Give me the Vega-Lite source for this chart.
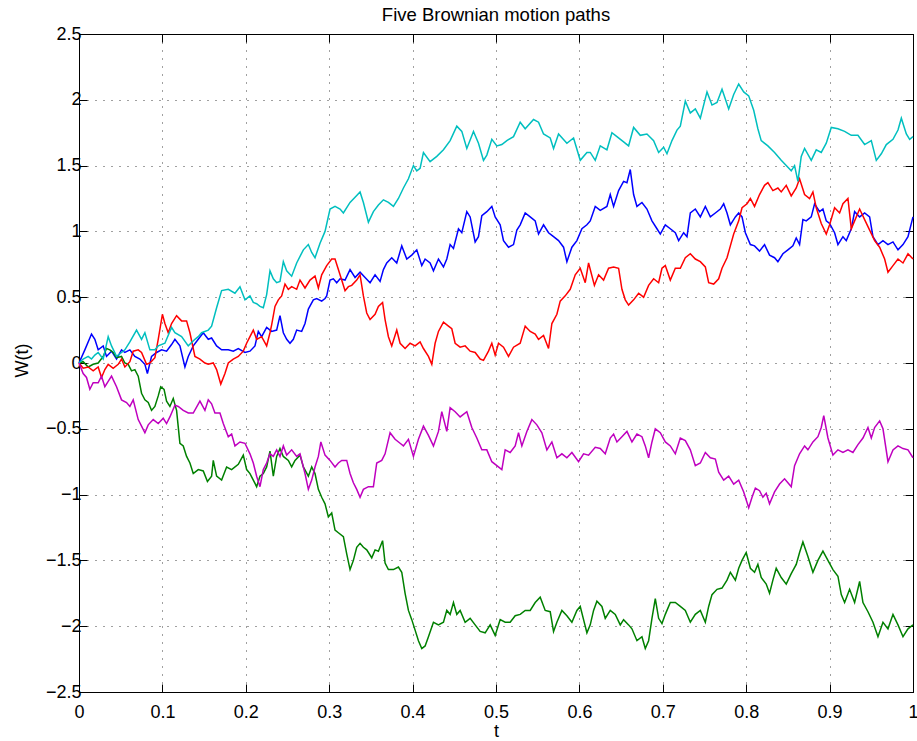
{
"$schema": "https://vega.github.io/schema/vega-lite/v6.json",
"width": 834, "height": 658,
"autosize": {"type": "none"},
"padding": {"left": 79, "top": 34, "right": 4, "bottom": 49},
"background": "white",
"title": {"text": "Five Brownian motion paths", "fontSize": 18.5, "fontWeight": "normal", "font": "Liberation Sans", "color": "#000", "baseline": "alphabetic", "offset": -14, "anchor": "middle", "frame": "group"},
"config": {
  "view": {"stroke": "#000", "strokeWidth": 1},
  "axis": {"domainColor": "#000", "tickColor": "#000", "labelColor": "#000", "titleColor": "#000", "labelFont": "Liberation Sans", "titleFont": "Liberation Sans", "labelFontSize": 18, "titleFontSize": 18, "titleFontWeight": "normal", "tickSize": -8, "gridColor": "#000", "gridDash": [1, 7], "gridOpacity": 0.75, "labelFlush": false, "labelOverlap": false, "labelBound": false}
},
"data": {"values": [
{"p":"1","t":0,"w":0},{"p":"1","t":0.007,"w":0.10},{"p":"1","t":0.015,"w":0.22},{"p":"1","t":0.019,"w":0.18},{"p":"1","t":0.023,"w":0.10},{"p":"1","t":0.029,"w":0.13},{"p":"1","t":0.033,"w":0.05},{"p":"1","t":0.039,"w":0.09},{"p":"1","t":0.045,"w":0.03},{"p":"1","t":0.051,"w":0.10},{"p":"1","t":0.055,"w":0.08},{"p":"1","t":0.061,"w":0.10},{"p":"1","t":0.067,"w":0.05},{"p":"1","t":0.073,"w":0.03},{"p":"1","t":0.079,"w":-0.01},{"p":"1","t":0.082,"w":-0.08},{"p":"1","t":0.087,"w":0.05},{"p":"1","t":0.093,"w":0.08},{"p":"1","t":0.099,"w":0.10},{"p":"1","t":0.105,"w":0.09},{"p":"1","t":0.111,"w":0.14},{"p":"1","t":0.115,"w":0.18},{"p":"1","t":0.121,"w":0.13},{"p":"1","t":0.127,"w":-0.03},{"p":"1","t":0.131,"w":0.05},{"p":"1","t":0.137,"w":0.13},{"p":"1","t":0.143,"w":0.18},{"p":"1","t":0.149,"w":0.23},{"p":"1","t":0.155,"w":0.18},{"p":"1","t":0.159,"w":0.19},{"p":"1","t":0.165,"w":0.13},{"p":"1","t":0.171,"w":0.10},{"p":"1","t":0.179,"w":0.10},{"p":"1","t":0.185,"w":0.09},{"p":"1","t":0.191,"w":0.11},{"p":"1","t":0.199,"w":0.08},
{"p":"1","t":0.205,"w":0.09},{"p":"1","t":0.211,"w":0.13},{"p":"1","t":0.215,"w":0.24},{"p":"1","t":0.219,"w":0.20},{"p":"1","t":0.225,"w":0.27},{"p":"1","t":0.231,"w":0.24},{"p":"1","t":0.237,"w":0.25},{"p":"1","t":0.241,"w":0.36},{"p":"1","t":0.245,"w":0.23},{"p":"1","t":0.249,"w":0.18},{"p":"1","t":0.253,"w":0.15},{"p":"1","t":0.257,"w":0.18},{"p":"1","t":0.261,"w":0.25},{"p":"1","t":0.267,"w":0.24},{"p":"1","t":0.271,"w":0.30},{"p":"1","t":0.275,"w":0.41},{"p":"1","t":0.281,"w":0.48},{"p":"1","t":0.285,"w":0.49},{"p":"1","t":0.291,"w":0.47},{"p":"1","t":0.295,"w":0.49},{"p":"1","t":0.297,"w":0.51},{"p":"1","t":0.301,"w":0.63},{"p":"1","t":0.305,"w":0.64},{"p":"1","t":0.309,"w":0.61},{"p":"1","t":0.313,"w":0.64},{"p":"1","t":0.319,"w":0.63},{"p":"1","t":0.325,"w":0.71},{"p":"1","t":0.331,"w":0.65},{"p":"1","t":0.337,"w":0.69},{"p":"1","t":0.343,"w":0.65},{"p":"1","t":0.349,"w":0.61},{"p":"1","t":0.355,"w":0.67},{"p":"1","t":0.361,"w":0.62},{"p":"1","t":0.365,"w":0.71},{"p":"1","t":0.369,"w":0.76},{"p":"1","t":0.375,"w":0.80},{"p":"1","t":0.381,"w":0.76},{"p":"1","t":0.387,"w":0.89},{"p":"1","t":0.393,"w":0.79},{"p":"1","t":0.399,"w":0.82},{"p":"1","t":0.405,"w":0.86},
{"p":"1","t":0.411,"w":0.74},{"p":"1","t":0.415,"w":0.79},{"p":"1","t":0.421,"w":0.76},{"p":"1","t":0.425,"w":0.70},{"p":"1","t":0.431,"w":0.79},{"p":"1","t":0.437,"w":0.73},{"p":"1","t":0.441,"w":0.79},{"p":"1","t":0.445,"w":0.90},{"p":"1","t":0.449,"w":0.87},{"p":"1","t":0.455,"w":1.02},{"p":"1","t":0.459,"w":0.99},{"p":"1","t":0.465,"w":1.15},{"p":"1","t":0.469,"w":1.11},{"p":"1","t":0.475,"w":0.92},{"p":"1","t":0.479,"w":0.96},{"p":"1","t":0.483,"w":1.12},{"p":"1","t":0.489,"w":1.15},{"p":"1","t":0.495,"w":1.19},{"p":"1","t":0.499,"w":1.11},{"p":"1","t":0.505,"w":1.05},{"p":"1","t":0.509,"w":0.93},{"p":"1","t":0.515,"w":0.88},{"p":"1","t":0.521,"w":0.90},{"p":"1","t":0.525,"w":1.01},{"p":"1","t":0.529,"w":1.05},{"p":"1","t":0.535,"w":1.14},{"p":"1","t":0.541,"w":1.11},{"p":"1","t":0.547,"w":1.08},{"p":"1","t":0.551,"w":0.98},{"p":"1","t":0.557,"w":1.05},{"p":"1","t":0.563,"w":0.99},{"p":"1","t":0.569,"w":0.96},{"p":"1","t":0.575,"w":0.93},{"p":"1","t":0.581,"w":0.88},{"p":"1","t":0.585,"w":0.77},{"p":"1","t":0.591,"w":0.88},{"p":"1","t":0.597,"w":0.93},{"p":"1","t":0.603,"w":1.02},{"p":"1","t":0.609,"w":1.05},
{"p":"1","t":0.613,"w":1.08},{"p":"1","t":0.619,"w":1.19},{"p":"1","t":0.625,"w":1.16},{"p":"1","t":0.633,"w":1.19},{"p":"1","t":0.637,"w":1.28},{"p":"1","t":0.641,"w":1.19},{"p":"1","t":0.647,"w":1.31},{"p":"1","t":0.653,"w":1.38},{"p":"1","t":0.657,"w":1.37},{"p":"1","t":0.661,"w":1.47},{"p":"1","t":0.665,"w":1.28},{"p":"1","t":0.669,"w":1.19},{"p":"1","t":0.675,"w":1.22},{"p":"1","t":0.681,"w":1.17},{"p":"1","t":0.687,"w":1.08},{"p":"1","t":0.693,"w":1.02},{"p":"1","t":0.697,"w":0.98},{"p":"1","t":0.703,"w":1.05},{"p":"1","t":0.709,"w":1.02},{"p":"1","t":0.715,"w":0.99},{"p":"1","t":0.719,"w":0.93},{"p":"1","t":0.725,"w":0.99},{"p":"1","t":0.729,"w":0.96},{"p":"1","t":0.733,"w":1.14},{"p":"1","t":0.739,"w":1.17},{"p":"1","t":0.745,"w":1.11},{"p":"1","t":0.751,"w":1.19},{"p":"1","t":0.757,"w":1.11},{"p":"1","t":0.763,"w":1.14},{"p":"1","t":0.769,"w":1.17},{"p":"1","t":0.773,"w":1.21},{"p":"1","t":0.777,"w":1.14},{"p":"1","t":0.781,"w":1.05},{"p":"1","t":0.787,"w":1.11},{"p":"1","t":0.791,"w":1.14},{"p":"1","t":0.795,"w":1.11},{"p":"1","t":0.799,"w":0.99},{"p":"1","t":0.805,"w":0.90},
{"p":"1","t":0.810,"w":0.89},{"p":"1","t":0.816,"w":0.85},{"p":"1","t":0.822,"w":0.90},{"p":"1","t":0.828,"w":0.82},{"p":"1","t":0.834,"w":0.80},{"p":"1","t":0.838,"w":0.77},{"p":"1","t":0.844,"w":0.83},{"p":"1","t":0.850,"w":0.86},{"p":"1","t":0.856,"w":0.89},{"p":"1","t":0.860,"w":0.95},{"p":"1","t":0.864,"w":0.90},{"p":"1","t":0.868,"w":1.09},{"p":"1","t":0.872,"w":1.08},{"p":"1","t":0.878,"w":1.11},{"p":"1","t":0.882,"w":1.21},{"p":"1","t":0.888,"w":1.15},{"p":"1","t":0.892,"w":1.17},{"p":"1","t":0.896,"w":1.08},{"p":"1","t":0.900,"w":1.06},{"p":"1","t":0.906,"w":0.99},{"p":"1","t":0.910,"w":0.90},{"p":"1","t":0.916,"w":0.96},{"p":"1","t":0.920,"w":0.93},{"p":"1","t":0.926,"w":1.02},{"p":"1","t":0.930,"w":1.15},{"p":"1","t":0.936,"w":1.11},{"p":"1","t":0.942,"w":1.14},{"p":"1","t":0.948,"w":1.11},{"p":"1","t":0.952,"w":0.96},{"p":"1","t":0.958,"w":0.90},{"p":"1","t":0.964,"w":0.93},{"p":"1","t":0.970,"w":0.90},{"p":"1","t":0.976,"w":0.92},{"p":"1","t":0.982,"w":0.86},{"p":"1","t":0.988,"w":0.90},{"p":"1","t":0.994,"w":0.96},{"p":"1","t":1,"w":1.11},

{"p":"2","t":0,"w":0},{"p":"2","t":0.005,"w":0.01},{"p":"2","t":0.011,"w":-0.03},{"p":"2","t":0.017,"w":-0.01},{"p":"2","t":0.023,"w":0.00},{"p":"2","t":0.029,"w":0.05},{"p":"2","t":0.033,"w":0.11},{"p":"2","t":0.037,"w":0.10},{"p":"2","t":0.041,"w":0.08},{"p":"2","t":0.045,"w":0.04},{"p":"2","t":0.051,"w":0.05},{"p":"2","t":0.055,"w":0.00},{"p":"2","t":0.059,"w":-0.01},{"p":"2","t":0.063,"w":-0.06},{"p":"2","t":0.067,"w":-0.05},{"p":"2","t":0.071,"w":-0.10},{"p":"2","t":0.075,"w":-0.23},{"p":"2","t":0.079,"w":-0.28},{"p":"2","t":0.083,"w":-0.30},{"p":"2","t":0.087,"w":-0.36},{"p":"2","t":0.091,"w":-0.33},{"p":"2","t":0.095,"w":-0.25},{"p":"2","t":0.098,"w":-0.18},{"p":"2","t":0.102,"w":-0.20},{"p":"2","t":0.105,"w":-0.29},{"p":"2","t":0.109,"w":-0.33},{"p":"2","t":0.113,"w":-0.27},{"p":"2","t":0.117,"w":-0.36},{"p":"2","t":0.121,"w":-0.61},{"p":"2","t":0.125,"w":-0.63},{"p":"2","t":0.129,"w":-0.71},{"p":"2","t":0.133,"w":-0.76},{"p":"2","t":0.137,"w":-0.84},{"p":"2","t":0.143,"w":-0.81},{"p":"2","t":0.149,"w":-0.82},{"p":"2","t":0.154,"w":-0.90},{"p":"2","t":0.159,"w":-0.86},{"p":"2","t":0.161,"w":-0.74},{"p":"2","t":0.165,"w":-0.86},{"p":"2","t":0.171,"w":-0.89},{"p":"2","t":0.177,"w":-0.79},{"p":"2","t":0.183,"w":-0.81},{"p":"2","t":0.191,"w":-0.77},{"p":"2","t":0.197,"w":-0.70},{"p":"2","t":0.201,"w":-0.81},
{"p":"2","t":0.205,"w":-0.84},{"p":"2","t":0.209,"w":-0.89},{"p":"2","t":0.213,"w":-0.94},{"p":"2","t":0.217,"w":-0.86},{"p":"2","t":0.221,"w":-0.84},{"p":"2","t":0.225,"w":-0.79},{"p":"2","t":0.229,"w":-0.67},{"p":"2","t":0.233,"w":-0.86},{"p":"2","t":0.237,"w":-0.71},{"p":"2","t":0.241,"w":-0.65},{"p":"2","t":0.245,"w":-0.71},{"p":"2","t":0.251,"w":-0.74},{"p":"2","t":0.255,"w":-0.79},{"p":"2","t":0.259,"w":-0.74},{"p":"2","t":0.265,"w":-0.70},{"p":"2","t":0.269,"w":-0.79},{"p":"2","t":0.275,"w":-0.86},{"p":"2","t":0.279,"w":-0.79},{"p":"2","t":0.283,"w":-0.84},{"p":"2","t":0.287,"w":-0.96},{"p":"2","t":0.291,"w":-1.02},{"p":"2","t":0.295,"w":-1.07},{"p":"2","t":0.299,"w":-1.17},{"p":"2","t":0.303,"w":-1.14},{"p":"2","t":0.307,"w":-1.27},{"p":"2","t":0.311,"w":-1.29},{"p":"2","t":0.317,"w":-1.32},{"p":"2","t":0.321,"w":-1.45},{"p":"2","t":0.325,"w":-1.57},{"p":"2","t":0.329,"w":-1.50},{"p":"2","t":0.333,"w":-1.40},{"p":"2","t":0.337,"w":-1.37},{"p":"2","t":0.341,"w":-1.40},{"p":"2","t":0.345,"w":-1.42},{"p":"2","t":0.351,"w":-1.48},{"p":"2","t":0.355,"w":-1.42},{"p":"2","t":0.359,"w":-1.43},{"p":"2","t":0.364,"w":-1.35},{"p":"2","t":0.367,"w":-1.52},{"p":"2","t":0.371,"w":-1.57},{"p":"2","t":0.377,"w":-1.57},{"p":"2","t":0.383,"w":-1.55},{"p":"2","t":0.387,"w":-1.59},{"p":"2","t":0.391,"w":-1.75},{"p":"2","t":0.395,"w":-1.88},{"p":"2","t":0.399,"w":-1.95},{"p":"2","t":0.403,"w":-2.03},{"p":"2","t":0.407,"w":-2.11},
{"p":"2","t":0.411,"w":-2.17},{"p":"2","t":0.415,"w":-2.15},{"p":"2","t":0.419,"w":-2.08},{"p":"2","t":0.425,"w":-1.97},{"p":"2","t":0.431,"w":-1.99},{"p":"2","t":0.437,"w":-1.97},{"p":"2","t":0.441,"w":-1.88},{"p":"2","t":0.445,"w":-1.91},{"p":"2","t":0.449,"w":-1.82},{"p":"2","t":0.453,"w":-1.91},{"p":"2","t":0.457,"w":-1.88},{"p":"2","t":0.463,"w":-1.97},{"p":"2","t":0.469,"w":-1.94},{"p":"2","t":0.475,"w":-1.99},{"p":"2","t":0.481,"w":-2.04},{"p":"2","t":0.487,"w":-2.05},{"p":"2","t":0.493,"w":-1.99},{"p":"2","t":0.499,"w":-2.07},{"p":"2","t":0.505,"w":-1.95},{"p":"2","t":0.511,"w":-1.97},{"p":"2","t":0.517,"w":-1.97},{"p":"2","t":0.523,"w":-1.92},{"p":"2","t":0.529,"w":-1.91},{"p":"2","t":0.535,"w":-1.88},{"p":"2","t":0.541,"w":-1.88},{"p":"2","t":0.547,"w":-1.82},{"p":"2","t":0.553,"w":-1.78},{"p":"2","t":0.559,"w":-1.88},{"p":"2","t":0.565,"w":-1.89},{"p":"2","t":0.569,"w":-2.04},{"p":"2","t":0.573,"w":-1.97},{"p":"2","t":0.579,"w":-1.88},{"p":"2","t":0.585,"w":-1.92},{"p":"2","t":0.591,"w":-1.97},{"p":"2","t":0.597,"w":-1.88},{"p":"2","t":0.601,"w":-1.85},{"p":"2","t":0.605,"w":-1.95},{"p":"2","t":0.609,"w":-2.05},
{"p":"2","t":0.613,"w":-1.99},{"p":"2","t":0.617,"w":-1.88},{"p":"2","t":0.621,"w":-1.81},{"p":"2","t":0.627,"w":-1.85},{"p":"2","t":0.631,"w":-1.94},{"p":"2","t":0.637,"w":-1.88},{"p":"2","t":0.643,"w":-1.91},{"p":"2","t":0.649,"w":-1.99},{"p":"2","t":0.653,"w":-1.95},{"p":"2","t":0.659,"w":-1.99},{"p":"2","t":0.663,"w":-2.02},{"p":"2","t":0.669,"w":-2.11},{"p":"2","t":0.675,"w":-2.08},{"p":"2","t":0.679,"w":-2.17},{"p":"2","t":0.683,"w":-2.11},{"p":"2","t":0.687,"w":-1.94},{"p":"2","t":0.691,"w":-1.79},{"p":"2","t":0.695,"w":-1.94},{"p":"2","t":0.699,"w":-1.98},{"p":"2","t":0.703,"w":-1.91},{"p":"2","t":0.709,"w":-1.82},{"p":"2","t":0.715,"w":-1.82},{"p":"2","t":0.721,"w":-1.85},{"p":"2","t":0.727,"w":-1.88},{"p":"2","t":0.733,"w":-1.97},{"p":"2","t":0.739,"w":-1.91},{"p":"2","t":0.745,"w":-1.88},{"p":"2","t":0.751,"w":-1.97},{"p":"2","t":0.755,"w":-1.85},{"p":"2","t":0.759,"w":-1.76},{"p":"2","t":0.765,"w":-1.72},{"p":"2","t":0.771,"w":-1.71},{"p":"2","t":0.777,"w":-1.65},{"p":"2","t":0.781,"w":-1.59},{"p":"2","t":0.787,"w":-1.65},{"p":"2","t":0.791,"w":-1.56},{"p":"2","t":0.795,"w":-1.50},{"p":"2","t":0.800,"w":-1.44},{"p":"2","t":0.805,"w":-1.56},
{"p":"2","t":0.810,"w":-1.59},{"p":"2","t":0.814,"w":-1.53},{"p":"2","t":0.818,"w":-1.63},{"p":"2","t":0.824,"w":-1.68},{"p":"2","t":0.828,"w":-1.75},{"p":"2","t":0.832,"w":-1.65},{"p":"2","t":0.836,"w":-1.56},{"p":"2","t":0.842,"w":-1.63},{"p":"2","t":0.848,"w":-1.68},{"p":"2","t":0.854,"w":-1.60},{"p":"2","t":0.860,"w":-1.53},{"p":"2","t":0.864,"w":-1.44},{"p":"2","t":0.868,"w":-1.36},{"p":"2","t":0.874,"w":-1.47},{"p":"2","t":0.880,"w":-1.59},{"p":"2","t":0.886,"w":-1.50},{"p":"2","t":0.892,"w":-1.43},{"p":"2","t":0.898,"w":-1.50},{"p":"2","t":0.904,"w":-1.57},{"p":"2","t":0.910,"w":-1.62},{"p":"2","t":0.914,"w":-1.76},{"p":"2","t":0.918,"w":-1.82},{"p":"2","t":0.924,"w":-1.72},{"p":"2","t":0.930,"w":-1.82},{"p":"2","t":0.936,"w":-1.66},{"p":"2","t":0.940,"w":-1.82},{"p":"2","t":0.946,"w":-1.89},{"p":"2","t":0.952,"w":-1.97},{"p":"2","t":0.958,"w":-2.08},{"p":"2","t":0.964,"w":-1.97},{"p":"2","t":0.970,"w":-2.02},{"p":"2","t":0.976,"w":-1.91},{"p":"2","t":0.982,"w":-1.99},{"p":"2","t":0.988,"w":-2.08},{"p":"2","t":0.994,"w":-2.02},{"p":"2","t":1,"w":-1.99},

{"p":"3","t":0,"w":0},{"p":"3","t":0.005,"w":-0.04},{"p":"3","t":0.011,"w":-0.03},{"p":"3","t":0.017,"w":-0.06},{"p":"3","t":0.023,"w":-0.03},{"p":"3","t":0.027,"w":-0.11},{"p":"3","t":0.031,"w":-0.05},{"p":"3","t":0.035,"w":-0.01},{"p":"3","t":0.041,"w":-0.04},{"p":"3","t":0.047,"w":-0.01},{"p":"3","t":0.051,"w":0.03},{"p":"3","t":0.055,"w":-0.03},{"p":"3","t":0.061,"w":0.01},{"p":"3","t":0.065,"w":0.09},{"p":"3","t":0.071,"w":0.10},{"p":"3","t":0.075,"w":0.08},{"p":"3","t":0.081,"w":-0.01},{"p":"3","t":0.085,"w":0.00},{"p":"3","t":0.091,"w":0.04},{"p":"3","t":0.095,"w":0.18},{"p":"3","t":0.100,"w":0.37},{"p":"3","t":0.103,"w":0.30},{"p":"3","t":0.107,"w":0.23},{"p":"3","t":0.111,"w":0.30},{"p":"3","t":0.117,"w":0.36},{"p":"3","t":0.123,"w":0.32},{"p":"3","t":0.129,"w":0.32},{"p":"3","t":0.133,"w":0.23},{"p":"3","t":0.139,"w":0.05},{"p":"3","t":0.145,"w":0.03},{"p":"3","t":0.151,"w":0.00},{"p":"3","t":0.155,"w":-0.01},{"p":"3","t":0.161,"w":0.00},{"p":"3","t":0.165,"w":-0.05},{"p":"3","t":0.170,"w":-0.16},{"p":"3","t":0.175,"w":-0.08},{"p":"3","t":0.179,"w":0.00},{"p":"3","t":0.185,"w":0.03},{"p":"3","t":0.191,"w":0.05},{"p":"3","t":0.197,"w":0.09},{"p":"3","t":0.201,"w":0.15},
{"p":"3","t":0.205,"w":0.20},{"p":"3","t":0.209,"w":0.25},{"p":"3","t":0.213,"w":0.18},{"p":"3","t":0.219,"w":0.20},{"p":"3","t":0.225,"w":0.13},{"p":"3","t":0.229,"w":0.23},{"p":"3","t":0.231,"w":0.29},{"p":"3","t":0.235,"w":0.43},{"p":"3","t":0.239,"w":0.48},{"p":"3","t":0.243,"w":0.51},{"p":"3","t":0.247,"w":0.60},{"p":"3","t":0.251,"w":0.56},{"p":"3","t":0.255,"w":0.58},{"p":"3","t":0.261,"w":0.56},{"p":"3","t":0.265,"w":0.63},{"p":"3","t":0.271,"w":0.57},{"p":"3","t":0.277,"w":0.63},{"p":"3","t":0.283,"w":0.66},{"p":"3","t":0.287,"w":0.57},{"p":"3","t":0.291,"w":0.67},{"p":"3","t":0.297,"w":0.74},{"p":"3","t":0.303,"w":0.79},{"p":"3","t":0.307,"w":0.79},{"p":"3","t":0.311,"w":0.71},{"p":"3","t":0.315,"w":0.63},{"p":"3","t":0.319,"w":0.55},{"p":"3","t":0.323,"w":0.58},{"p":"3","t":0.327,"w":0.59},{"p":"3","t":0.333,"w":0.63},{"p":"3","t":0.337,"w":0.67},{"p":"3","t":0.341,"w":0.51},{"p":"3","t":0.345,"w":0.38},{"p":"3","t":0.349,"w":0.33},{"p":"3","t":0.355,"w":0.37},{"p":"3","t":0.359,"w":0.43},{"p":"3","t":0.364,"w":0.46},{"p":"3","t":0.367,"w":0.33},{"p":"3","t":0.371,"w":0.20},{"p":"3","t":0.375,"w":0.13},{"p":"3","t":0.381,"w":0.25},{"p":"3","t":0.385,"w":0.15},{"p":"3","t":0.391,"w":0.11},{"p":"3","t":0.397,"w":0.15},{"p":"3","t":0.403,"w":0.13},{"p":"3","t":0.409,"w":0.16},
{"p":"3","t":0.413,"w":0.11},{"p":"3","t":0.419,"w":0.05},{"p":"3","t":0.423,"w":-0.01},{"p":"3","t":0.427,"w":0.15},{"p":"3","t":0.431,"w":0.24},{"p":"3","t":0.437,"w":0.31},{"p":"3","t":0.443,"w":0.28},{"p":"3","t":0.447,"w":0.26},{"p":"3","t":0.451,"w":0.15},{"p":"3","t":0.457,"w":0.12},{"p":"3","t":0.463,"w":0.13},{"p":"3","t":0.469,"w":0.09},{"p":"3","t":0.475,"w":0.08},{"p":"3","t":0.481,"w":0.03},{"p":"3","t":0.485,"w":0.02},{"p":"3","t":0.491,"w":0.09},{"p":"3","t":0.495,"w":0.15},{"p":"3","t":0.499,"w":0.06},{"p":"3","t":0.503,"w":0.15},{"p":"3","t":0.509,"w":0.12},{"p":"3","t":0.515,"w":0.05},{"p":"3","t":0.521,"w":0.12},{"p":"3","t":0.529,"w":0.15},{"p":"3","t":0.535,"w":0.28},{"p":"3","t":0.541,"w":0.24},{"p":"3","t":0.547,"w":0.22},{"p":"3","t":0.551,"w":0.18},{"p":"3","t":0.557,"w":0.21},{"p":"3","t":0.563,"w":0.11},{"p":"3","t":0.567,"w":0.30},{"p":"3","t":0.573,"w":0.37},{"p":"3","t":0.577,"w":0.47},{"p":"3","t":0.583,"w":0.51},{"p":"3","t":0.589,"w":0.56},{"p":"3","t":0.595,"w":0.67},{"p":"3","t":0.601,"w":0.72},{"p":"3","t":0.607,"w":0.61},{"p":"3","t":0.611,"w":0.76},
{"p":"3","t":0.618,"w":0.59},{"p":"3","t":0.623,"w":0.67},{"p":"3","t":0.629,"w":0.63},{"p":"3","t":0.635,"w":0.72},{"p":"3","t":0.641,"w":0.73},{"p":"3","t":0.647,"w":0.72},{"p":"3","t":0.651,"w":0.56},{"p":"3","t":0.655,"w":0.48},{"p":"3","t":0.659,"w":0.44},{"p":"3","t":0.665,"w":0.48},{"p":"3","t":0.671,"w":0.53},{"p":"3","t":0.677,"w":0.50},{"p":"3","t":0.683,"w":0.59},{"p":"3","t":0.689,"w":0.64},{"p":"3","t":0.695,"w":0.61},{"p":"3","t":0.699,"w":0.72},{"p":"3","t":0.703,"w":0.74},{"p":"3","t":0.709,"w":0.63},{"p":"3","t":0.715,"w":0.72},{"p":"3","t":0.721,"w":0.72},{"p":"3","t":0.727,"w":0.80},{"p":"3","t":0.733,"w":0.83},{"p":"3","t":0.739,"w":0.79},{"p":"3","t":0.745,"w":0.77},{"p":"3","t":0.751,"w":0.73},{"p":"3","t":0.755,"w":0.61},{"p":"3","t":0.761,"w":0.60},{"p":"3","t":0.767,"w":0.64},{"p":"3","t":0.771,"w":0.72},{"p":"3","t":0.777,"w":0.80},{"p":"3","t":0.781,"w":0.89},{"p":"3","t":0.785,"w":0.98},{"p":"3","t":0.791,"w":1.08},{"p":"3","t":0.795,"w":1.18},{"p":"3","t":0.801,"w":1.21},{"p":"3","t":0.805,"w":1.25},
{"p":"3","t":0.810,"w":1.19},{"p":"3","t":0.816,"w":1.28},{"p":"3","t":0.822,"w":1.35},{"p":"3","t":0.826,"w":1.37},{"p":"3","t":0.832,"w":1.31},{"p":"3","t":0.838,"w":1.33},{"p":"3","t":0.842,"w":1.30},{"p":"3","t":0.848,"w":1.35},{"p":"3","t":0.854,"w":1.27},{"p":"3","t":0.860,"w":1.33},{"p":"3","t":0.864,"w":1.40},{"p":"3","t":0.870,"w":1.28},{"p":"3","t":0.876,"w":1.25},{"p":"3","t":0.880,"w":1.30},{"p":"3","t":0.884,"w":1.18},{"p":"3","t":0.890,"w":1.06},{"p":"3","t":0.896,"w":0.98},{"p":"3","t":0.900,"w":1.05},{"p":"3","t":0.906,"w":1.18},{"p":"3","t":0.912,"w":1.14},{"p":"3","t":0.916,"w":1.21},{"p":"3","t":0.922,"w":1.25},{"p":"3","t":0.926,"w":1.02},{"p":"3","t":0.930,"w":1.08},{"p":"3","t":0.936,"w":1.17},{"p":"3","t":0.942,"w":1.09},{"p":"3","t":0.948,"w":1.01},{"p":"3","t":0.954,"w":0.93},{"p":"3","t":0.960,"w":0.88},{"p":"3","t":0.966,"w":0.79},{"p":"3","t":0.970,"w":0.69},{"p":"3","t":0.976,"w":0.74},{"p":"3","t":0.982,"w":0.79},{"p":"3","t":0.988,"w":0.76},{"p":"3","t":0.994,"w":0.83},{"p":"3","t":1,"w":0.79},

{"p":"4","t":0,"w":0},{"p":"4","t":0.005,"w":0.03},{"p":"4","t":0.011,"w":0.05},{"p":"4","t":0.015,"w":0.03},{"p":"4","t":0.019,"w":0.06},{"p":"4","t":0.023,"w":0.08},{"p":"4","t":0.029,"w":0.03},{"p":"4","t":0.035,"w":0.20},{"p":"4","t":0.039,"w":0.13},{"p":"4","t":0.045,"w":0.05},{"p":"4","t":0.051,"w":0.08},{"p":"4","t":0.055,"w":0.10},{"p":"4","t":0.061,"w":0.16},{"p":"4","t":0.069,"w":0.25},{"p":"4","t":0.075,"w":0.18},{"p":"4","t":0.079,"w":0.23},{"p":"4","t":0.085,"w":0.10},{"p":"4","t":0.091,"w":0.10},{"p":"4","t":0.095,"w":0.13},{"p":"4","t":0.103,"w":0.15},{"p":"4","t":0.111,"w":0.27},{"p":"4","t":0.115,"w":0.23},{"p":"4","t":0.123,"w":0.20},{"p":"4","t":0.131,"w":0.13},{"p":"4","t":0.139,"w":0.18},{"p":"4","t":0.143,"w":0.20},{"p":"4","t":0.147,"w":0.23},{"p":"4","t":0.155,"w":0.25},{"p":"4","t":0.159,"w":0.28},{"p":"4","t":0.165,"w":0.42},{"p":"4","t":0.171,"w":0.55},{"p":"4","t":0.179,"w":0.56},{"p":"4","t":0.187,"w":0.53},{"p":"4","t":0.193,"w":0.58},{"p":"4","t":0.199,"w":0.48},
{"p":"4","t":0.205,"w":0.51},{"p":"4","t":0.209,"w":0.46},{"p":"4","t":0.213,"w":0.45},{"p":"4","t":0.217,"w":0.43},{"p":"4","t":0.221,"w":0.42},{"p":"4","t":0.225,"w":0.52},{"p":"4","t":0.229,"w":0.70},{"p":"4","t":0.233,"w":0.64},{"p":"4","t":0.237,"w":0.61},{"p":"4","t":0.241,"w":0.62},{"p":"4","t":0.245,"w":0.77},{"p":"4","t":0.249,"w":0.70},{"p":"4","t":0.255,"w":0.66},{"p":"4","t":0.261,"w":0.76},{"p":"4","t":0.269,"w":0.86},{"p":"4","t":0.275,"w":0.90},{"p":"4","t":0.279,"w":0.84},{"p":"4","t":0.283,"w":0.80},{"p":"4","t":0.289,"w":0.91},{"p":"4","t":0.295,"w":1.00},{"p":"4","t":0.301,"w":1.17},{"p":"4","t":0.307,"w":1.19},{"p":"4","t":0.313,"w":1.17},{"p":"4","t":0.317,"w":1.14},{"p":"4","t":0.325,"w":1.22},{"p":"4","t":0.331,"w":1.26},{"p":"4","t":0.337,"w":1.30},{"p":"4","t":0.341,"w":1.22},{"p":"4","t":0.347,"w":1.07},{"p":"4","t":0.353,"w":1.15},{"p":"4","t":0.359,"w":1.20},{"p":"4","t":0.365,"w":1.24},{"p":"4","t":0.371,"w":1.22},{"p":"4","t":0.377,"w":1.19},{"p":"4","t":0.383,"w":1.25},{"p":"4","t":0.389,"w":1.33},{"p":"4","t":0.395,"w":1.40},{"p":"4","t":0.401,"w":1.50},{"p":"4","t":0.405,"w":1.46},
{"p":"4","t":0.409,"w":1.48},{"p":"4","t":0.413,"w":1.60},{"p":"4","t":0.421,"w":1.53},{"p":"4","t":0.429,"w":1.57},{"p":"4","t":0.437,"w":1.62},{"p":"4","t":0.445,"w":1.69},{"p":"4","t":0.453,"w":1.80},{"p":"4","t":0.459,"w":1.76},{"p":"4","t":0.465,"w":1.63},{"p":"4","t":0.473,"w":1.76},{"p":"4","t":0.479,"w":1.67},{"p":"4","t":0.485,"w":1.54},{"p":"4","t":0.489,"w":1.58},{"p":"4","t":0.495,"w":1.70},{"p":"4","t":0.501,"w":1.65},{"p":"4","t":0.507,"w":1.66},{"p":"4","t":0.513,"w":1.69},{"p":"4","t":0.521,"w":1.72},{"p":"4","t":0.529,"w":1.83},{"p":"4","t":0.535,"w":1.78},{"p":"4","t":0.545,"w":1.85},{"p":"4","t":0.551,"w":1.83},{"p":"4","t":0.557,"w":1.74},{"p":"4","t":0.565,"w":1.71},{"p":"4","t":0.569,"w":1.63},{"p":"4","t":0.575,"w":1.74},{"p":"4","t":0.585,"w":1.67},{"p":"4","t":0.593,"w":1.71},{"p":"4","t":0.601,"w":1.54},{"p":"4","t":0.609,"w":1.60},
{"p":"4","t":0.613,"w":1.60},{"p":"4","t":0.619,"w":1.54},{"p":"4","t":0.625,"w":1.65},{"p":"4","t":0.633,"w":1.62},{"p":"4","t":0.639,"w":1.75},{"p":"4","t":0.645,"w":1.72},{"p":"4","t":0.653,"w":1.68},{"p":"4","t":0.659,"w":1.65},{"p":"4","t":0.665,"w":1.79},{"p":"4","t":0.673,"w":1.73},{"p":"4","t":0.681,"w":1.74},{"p":"4","t":0.689,"w":1.69},{"p":"4","t":0.695,"w":1.60},{"p":"4","t":0.701,"w":1.64},{"p":"4","t":0.705,"w":1.59},{"p":"4","t":0.711,"w":1.69},{"p":"4","t":0.717,"w":1.77},{"p":"4","t":0.721,"w":1.80},{"p":"4","t":0.727,"w":1.99},{"p":"4","t":0.733,"w":1.90},{"p":"4","t":0.739,"w":1.93},{"p":"4","t":0.745,"w":1.86},{"p":"4","t":0.753,"w":2.06},{"p":"4","t":0.759,"w":1.96},{"p":"4","t":0.765,"w":1.98},{"p":"4","t":0.771,"w":2.08},{"p":"4","t":0.779,"w":1.93},{"p":"4","t":0.785,"w":2.04},{"p":"4","t":0.791,"w":2.12},{"p":"4","t":0.797,"w":2.06},{"p":"4","t":0.803,"w":2.03},{"p":"4","t":0.809,"w":1.92},
{"p":"4","t":0.814,"w":1.78},{"p":"4","t":0.818,"w":1.69},{"p":"4","t":0.826,"w":1.65},{"p":"4","t":0.834,"w":1.60},{"p":"4","t":0.842,"w":1.54},{"p":"4","t":0.848,"w":1.50},{"p":"4","t":0.854,"w":1.46},{"p":"4","t":0.858,"w":1.50},{"p":"4","t":0.862,"w":1.38},{"p":"4","t":0.866,"w":1.57},{"p":"4","t":0.870,"w":1.63},{"p":"4","t":0.878,"w":1.54},{"p":"4","t":0.884,"w":1.62},{"p":"4","t":0.890,"w":1.60},{"p":"4","t":0.896,"w":1.67},{"p":"4","t":0.902,"w":1.79},{"p":"4","t":0.910,"w":1.78},{"p":"4","t":0.918,"w":1.76},{"p":"4","t":0.926,"w":1.73},{"p":"4","t":0.934,"w":1.73},{"p":"4","t":0.942,"w":1.66},{"p":"4","t":0.950,"w":1.69},{"p":"4","t":0.956,"w":1.54},{"p":"4","t":0.962,"w":1.59},{"p":"4","t":0.968,"w":1.66},{"p":"4","t":0.976,"w":1.70},{"p":"4","t":0.982,"w":1.77},{"p":"4","t":0.986,"w":1.86},{"p":"4","t":0.992,"w":1.74},{"p":"4","t":0.996,"w":1.70},{"p":"4","t":1,"w":1.72},

{"p":"5","t":0,"w":0},{"p":"5","t":0.005,"w":-0.08},{"p":"5","t":0.009,"w":-0.11},{"p":"5","t":0.013,"w":-0.20},{"p":"5","t":0.017,"w":-0.15},{"p":"5","t":0.023,"w":-0.15},{"p":"5","t":0.027,"w":-0.10},{"p":"5","t":0.031,"w":-0.18},{"p":"5","t":0.035,"w":-0.14},{"p":"5","t":0.039,"w":-0.10},{"p":"5","t":0.045,"w":-0.18},{"p":"5","t":0.051,"w":-0.28},{"p":"5","t":0.057,"w":-0.30},{"p":"5","t":0.061,"w":-0.33},{"p":"5","t":0.065,"w":-0.28},{"p":"5","t":0.071,"w":-0.43},{"p":"5","t":0.075,"w":-0.48},{"p":"5","t":0.079,"w":-0.53},{"p":"5","t":0.083,"w":-0.47},{"p":"5","t":0.089,"w":-0.43},{"p":"5","t":0.095,"w":-0.46},{"p":"5","t":0.101,"w":-0.42},{"p":"5","t":0.105,"w":-0.46},{"p":"5","t":0.109,"w":-0.41},{"p":"5","t":0.115,"w":-0.32},{"p":"5","t":0.119,"w":-0.33},{"p":"5","t":0.125,"w":-0.36},{"p":"5","t":0.131,"w":-0.38},{"p":"5","t":0.137,"w":-0.38},{"p":"5","t":0.145,"w":-0.29},{"p":"5","t":0.151,"w":-0.36},{"p":"5","t":0.155,"w":-0.28},{"p":"5","t":0.159,"w":-0.31},{"p":"5","t":0.163,"w":-0.38},{"p":"5","t":0.169,"w":-0.38},{"p":"5","t":0.173,"w":-0.46},{"p":"5","t":0.179,"w":-0.56},{"p":"5","t":0.183,"w":-0.54},{"p":"5","t":0.187,"w":-0.63},{"p":"5","t":0.193,"w":-0.60},{"p":"5","t":0.199,"w":-0.61},
{"p":"5","t":0.205,"w":-0.69},{"p":"5","t":0.209,"w":-0.76},{"p":"5","t":0.213,"w":-0.86},{"p":"5","t":0.217,"w":-0.94},{"p":"5","t":0.221,"w":-0.81},{"p":"5","t":0.225,"w":-0.76},{"p":"5","t":0.229,"w":-0.69},{"p":"5","t":0.233,"w":-0.71},{"p":"5","t":0.237,"w":-0.66},{"p":"5","t":0.241,"w":-0.71},{"p":"5","t":0.245,"w":-0.63},{"p":"5","t":0.249,"w":-0.70},{"p":"5","t":0.255,"w":-0.66},{"p":"5","t":0.261,"w":-0.71},{"p":"5","t":0.265,"w":-0.69},{"p":"5","t":0.271,"w":-0.84},{"p":"5","t":0.275,"w":-0.96},{"p":"5","t":0.279,"w":-0.89},{"p":"5","t":0.283,"w":-0.79},{"p":"5","t":0.287,"w":-0.71},{"p":"5","t":0.290,"w":-0.60},{"p":"5","t":0.295,"w":-0.70},{"p":"5","t":0.301,"w":-0.74},{"p":"5","t":0.307,"w":-0.79},{"p":"5","t":0.311,"w":-0.76},{"p":"5","t":0.315,"w":-0.74},{"p":"5","t":0.321,"w":-0.74},{"p":"5","t":0.325,"w":-0.84},{"p":"5","t":0.329,"w":-0.91},{"p":"5","t":0.333,"w":-0.96},{"p":"5","t":0.337,"w":-1.02},{"p":"5","t":0.341,"w":-0.96},{"p":"5","t":0.347,"w":-0.94},{"p":"5","t":0.353,"w":-0.94},{"p":"5","t":0.357,"w":-0.76},{"p":"5","t":0.363,"w":-0.74},{"p":"5","t":0.367,"w":-0.69},{"p":"5","t":0.373,"w":-0.53},{"p":"5","t":0.379,"w":-0.58},{"p":"5","t":0.385,"w":-0.61},{"p":"5","t":0.389,"w":-0.63},{"p":"5","t":0.395,"w":-0.58},{"p":"5","t":0.401,"w":-0.71},{"p":"5","t":0.407,"w":-0.58},
{"p":"5","t":0.413,"w":-0.48},{"p":"5","t":0.419,"w":-0.55},{"p":"5","t":0.425,"w":-0.63},{"p":"5","t":0.431,"w":-0.52},{"p":"5","t":0.435,"w":-0.37},{"p":"5","t":0.441,"w":-0.52},{"p":"5","t":0.445,"w":-0.34},{"p":"5","t":0.451,"w":-0.37},{"p":"5","t":0.457,"w":-0.41},{"p":"5","t":0.465,"w":-0.37},{"p":"5","t":0.471,"w":-0.49},{"p":"5","t":0.477,"w":-0.57},{"p":"5","t":0.483,"w":-0.66},{"p":"5","t":0.489,"w":-0.66},{"p":"5","t":0.495,"w":-0.75},{"p":"5","t":0.501,"w":-0.78},{"p":"5","t":0.507,"w":-0.81},{"p":"5","t":0.511,"w":-0.66},{"p":"5","t":0.517,"w":-0.68},{"p":"5","t":0.523,"w":-0.63},{"p":"5","t":0.527,"w":-0.53},{"p":"5","t":0.531,"w":-0.63},{"p":"5","t":0.537,"w":-0.52},{"p":"5","t":0.543,"w":-0.43},{"p":"5","t":0.549,"w":-0.47},{"p":"5","t":0.555,"w":-0.53},{"p":"5","t":0.561,"w":-0.66},{"p":"5","t":0.567,"w":-0.60},{"p":"5","t":0.573,"w":-0.72},{"p":"5","t":0.579,"w":-0.69},{"p":"5","t":0.585,"w":-0.72},{"p":"5","t":0.591,"w":-0.68},{"p":"5","t":0.599,"w":-0.75},{"p":"5","t":0.605,"w":-0.69},{"p":"5","t":0.611,"w":-0.70},
{"p":"5","t":0.619,"w":-0.64},{"p":"5","t":0.625,"w":-0.65},{"p":"5","t":0.631,"w":-0.69},{"p":"5","t":0.637,"w":-0.57},{"p":"5","t":0.641,"w":-0.54},{"p":"5","t":0.645,"w":-0.60},{"p":"5","t":0.651,"w":-0.56},{"p":"5","t":0.657,"w":-0.52},{"p":"5","t":0.663,"w":-0.60},{"p":"5","t":0.669,"w":-0.54},{"p":"5","t":0.675,"w":-0.56},{"p":"5","t":0.679,"w":-0.63},{"p":"5","t":0.683,"w":-0.72},{"p":"5","t":0.687,"w":-0.60},{"p":"5","t":0.691,"w":-0.50},{"p":"5","t":0.697,"w":-0.53},{"p":"5","t":0.703,"w":-0.60},{"p":"5","t":0.709,"w":-0.63},{"p":"5","t":0.715,"w":-0.69},{"p":"5","t":0.721,"w":-0.57},{"p":"5","t":0.727,"w":-0.59},{"p":"5","t":0.733,"w":-0.66},{"p":"5","t":0.739,"w":-0.78},{"p":"5","t":0.745,"w":-0.76},{"p":"5","t":0.751,"w":-0.68},{"p":"5","t":0.757,"w":-0.72},{"p":"5","t":0.763,"w":-0.73},{"p":"5","t":0.767,"w":-0.83},{"p":"5","t":0.773,"w":-0.89},{"p":"5","t":0.779,"w":-0.86},{"p":"5","t":0.785,"w":-0.92},{"p":"5","t":0.791,"w":-0.89},{"p":"5","t":0.797,"w":-0.98},{"p":"5","t":0.803,"w":-1.10},{"p":"5","t":0.807,"w":-1.02},
{"p":"5","t":0.811,"w":-0.95},{"p":"5","t":0.816,"w":-0.97},{"p":"5","t":0.820,"w":-1.02},{"p":"5","t":0.824,"w":-0.99},{"p":"5","t":0.828,"w":-1.07},{"p":"5","t":0.834,"w":-0.98},{"p":"5","t":0.840,"w":-0.92},{"p":"5","t":0.846,"w":-0.88},{"p":"5","t":0.850,"w":-0.91},{"p":"5","t":0.854,"w":-0.94},{"p":"5","t":0.858,"w":-0.78},{"p":"5","t":0.864,"w":-0.69},{"p":"5","t":0.870,"w":-0.63},{"p":"5","t":0.874,"w":-0.66},{"p":"5","t":0.880,"w":-0.60},{"p":"5","t":0.886,"w":-0.56},{"p":"5","t":0.890,"w":-0.49},{"p":"5","t":0.893,"w":-0.40},{"p":"5","t":0.898,"w":-0.57},{"p":"5","t":0.904,"w":-0.70},{"p":"5","t":0.910,"w":-0.66},{"p":"5","t":0.916,"w":-0.68},{"p":"5","t":0.922,"w":-0.66},{"p":"5","t":0.928,"w":-0.68},{"p":"5","t":0.934,"w":-0.62},{"p":"5","t":0.940,"w":-0.57},{"p":"5","t":0.946,"w":-0.49},{"p":"5","t":0.950,"w":-0.57},{"p":"5","t":0.954,"w":-0.49},{"p":"5","t":0.960,"w":-0.44},{"p":"5","t":0.964,"w":-0.50},{"p":"5","t":0.970,"w":-0.75},{"p":"5","t":0.976,"w":-0.66},{"p":"5","t":0.982,"w":-0.63},{"p":"5","t":0.988,"w":-0.65},{"p":"5","t":0.994,"w":-0.66},{"p":"5","t":1,"w":-0.72}
]},
"layer": [
  {"mark": {"type": "line", "strokeWidth": 1.5, "interpolate": "linear"},
   "encoding": {
     "x": {"field": "t", "type": "quantitative", "scale": {"domain": [0, 1], "nice": false, "zero": false},
           "axis": {"orient": "bottom", "values": [0,0.1,0.2,0.3,0.4,0.5,0.6,0.7,0.8,0.9,1], "format": ".1~f", "grid": true, "labelPadding": 19, "labelFlush": false, "title": "t", "titleX": 417, "titleY": 44, "titleBaseline": "alphabetic", "titleAlign": "center", "titleAngle": 0}},
     "y": {"field": "w", "type": "quantitative", "scale": {"domain": [-2.5, 2.5], "nice": false, "zero": false},
           "axis": {"orient": "left", "values": [-2.5,-2,-1.5,-1,-0.5,0,0.5,1,1.5,2,2.5], "format": ".1~f", "grid": true, "labelPadding": 6, "labelFlush": false, "title": "W(t)", "titleX": -52, "titleY": 326, "titleAngle": 270, "titleBaseline": "alphabetic", "titleAlign": "center"}},
     "color": {"field": "p", "type": "nominal", "scale": {"domain": ["1","2","3","4","5"], "range": ["#0000ff","#008000","#ff0000","#00bfbf","#bf00bf"]}, "legend": null}
   }},
  {"data": {"values": [{"t": 0, "w": 0}]},
   "mark": {"type": "point", "opacity": 0},
   "encoding": {
     "x": {"field": "t", "type": "quantitative", "axis": {"orient": "top", "values": [0,0.1,0.2,0.3,0.4,0.5,0.6,0.7,0.8,0.9,1], "labels": false, "grid": false, "title": null}},
     "y": {"field": "w", "type": "quantitative", "axis": {"orient": "right", "values": [-2.5,-2,-1.5,-1,-0.5,0,0.5,1,1.5,2,2.5], "labels": false, "grid": false, "title": null}}
   }}
],
"resolve": {"axis": {"x": "independent", "y": "independent"}}
}
